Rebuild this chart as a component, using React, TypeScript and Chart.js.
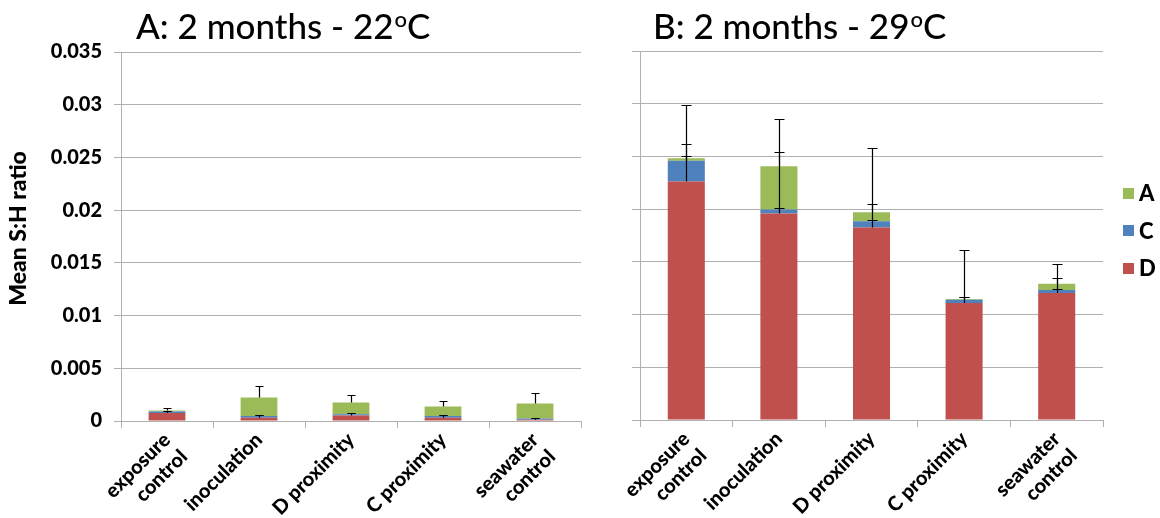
import React, { useEffect, useRef } from 'react';
import { Chart, registerables } from 'chart.js';

Chart.register(...registerables);

// ---------- data ----------
const CATEGORIES: (string | string[])[] = [
  ['exposure', 'control'],
  'inoculation',
  'D proximity',
  'C proximity',
  ['seawater', 'control'],
];
const SERIES_NAMES = ['D', 'C', 'A'];
const SERIES_COLORS = ['#C0504D', '#4F81BD', '#9BBB59'];
const Y_TICKS = [0, 0.005, 0.01, 0.015, 0.02, 0.025, 0.03, 0.035];
const Y_TITLE = 'Mean S:H ratio';

// Panel A: 2 months - 22oC
const A_D = [0.00076, 0.00032, 0.00051, 0.00032, 0.00013];
const A_C = [0.00013, 0.00016, 0.00013, 0.00016, 0.0001];
const A_A = [0.0001, 0.00174, 0.00111, 0.00089, 0.00142];
const A_ERR_D = [0.0002, 0.00022, 0.00022, 0.00022, 0.00012];
const A_ERR_C = [0.00004, 0.00006, 0.00009, 0.00006, 0.00002];
const A_ERR_A = [0.00024, 0.00108, 0.00075, 0.00053, 0.00105];

// Panel B: 2 months - 29oC
const B_D = [0.02262, 0.01959, 0.01826, 0.01109, 0.01204];
const B_C = [0.00196, 0.00038, 0.0006, 0.00032, 0.00028];
const B_A = [0.00025, 0.0041, 0.00085, 0.00006, 0.0006];
const B_ERR_D = [0.0036, 0.00056, 0.00074, 0.00054, 0.00038];
const B_ERR_C = [0.0053, 0.00543, 0.00164, 0.00022, 0.00117];
const B_ERR_A = [0.0002, 0.00446, 0.00609, 0.00463, 0.00183];

const TITLE_A = { main: 'A: 2 months - 22', sup: 'o', tail: 'C' };
const TITLE_B = { main: 'B: 2 months - 29', sup: 'o', tail: 'C' };

// ---------- styling ----------
const FONT = 'Lato';
const GRID = '#b0b0b0';
const H = 518;

function titlePlugin(
  t: { main: string; sup: string; tail: string },
  x: number,
  y: number,
  yTitle: string | null,
) {
  return {
    id: 'panelTitle',
    afterDraw(chart: any) {
      const ctx = chart.ctx;
      ctx.save();
      ctx.fillStyle = '#000';
      ctx.textBaseline = 'alphabetic';
      ctx.textAlign = 'left';
      ctx.font = `500 35px ${FONT}`;
      ctx.fillText(t.main, x, y);
      const w1 = ctx.measureText(t.main).width;
      ctx.font = `500 22px ${FONT}`;
      ctx.fillText(t.sup, x + w1 + 1, y - 12);
      const w2 = ctx.measureText(t.sup).width;
      ctx.font = `500 35px ${FONT}`;
      ctx.fillText(t.tail, x + w1 + w2 + 1, y);
      if (yTitle) {
        const ca = chart.chartArea;
        ctx.translate(19, (ca.top + ca.bottom) / 2 - 8);
        ctx.rotate(-Math.PI / 2);
        ctx.textAlign = 'center';
        ctx.textBaseline = 'middle';
        ctx.font = `900 23px ${FONT}`;
        ctx.fillText(yTitle, 0, 0);
      }
      ctx.restore();
    },
  };
}

function errorBarPlugin(cap: number) {
  return {
    id: 'errorBars',
    afterDatasetsDraw(chart: any) {
      const { ctx } = chart;
      const y = chart.scales.y;
      ctx.save();
      ctx.strokeStyle = '#000';
      ctx.lineWidth = 1.2;
      chart.data.datasets.forEach((ds: any, i: number) => {
        const meta = chart.getDatasetMeta(i);
        meta.data.forEach((el: any, j: number) => {
          let top = 0;
          for (let k = 0; k <= i; k++) top += chart.data.datasets[k].data[j];
          const err = ds.errors[j];
          const yTop = Math.round(y.getPixelForValue(top + err)) + 0.5;
          const x = Math.round(el.x) + 0.5;
          ctx.beginPath();
          ctx.moveTo(x, el.y);
          ctx.lineTo(x, yTop);
          ctx.moveTo(x - cap / 2, yTop);
          ctx.lineTo(x + cap / 2, yTop);
          ctx.stroke();
        });
      });
      ctx.restore();
    },
  };
}

const legendPlugin = {
  id: 'sideLegend',
  afterDraw(chart: any) {
    const { ctx, chartArea } = chart;
    const items = chart.data.datasets.slice().reverse();
    const x0 = chartArea.right + 20;
    const cy = (chartArea.top + chartArea.bottom) / 2 - 5;
    ctx.save();
    ctx.font = `900 22px ${FONT}`;
    ctx.textBaseline = 'middle';
    ctx.textAlign = 'left';
    items.forEach((ds: any, k: number) => {
      const yy = cy + (k - 1) * 37.5;
      ctx.fillStyle = ds.backgroundColor;
      ctx.fillRect(x0, Math.round(yy - 5.5), 11, 11);
      ctx.fillStyle = '#000';
      ctx.fillText(ds.label, x0 + 16, yy + 1);
    });
    ctx.restore();
  },
};

function makeConfig(opts: {
  d: number[]; c: number[]; a: number[];
  errs: number[][];
  showY: boolean;
  yAxisWidth: number;
  padTop: number;
  padRight: number;
  bottom: number;
  cap: number;
  title: { main: string; sup: string; tail: string };
  titleX: number;
  legend: boolean;
}): any {
  const values = [opts.d, opts.c, opts.a];
  const plugins: any[] = [
    errorBarPlugin(opts.cap),
    titlePlugin(opts.title, opts.titleX, 39, opts.showY ? Y_TITLE : null),
  ];
  if (opts.legend) plugins.push(legendPlugin);
  return {
    type: 'bar',
    data: {
      labels: CATEGORIES,
      datasets: SERIES_NAMES.map((name, i) => ({
        label: name,
        data: values[i],
        errors: opts.errs[i],
        backgroundColor: SERIES_COLORS[i],
        borderWidth: 0,
        categoryPercentage: 1,
        barPercentage: 0.4,
      })),
    },
    options: {
      responsive: false,
      animation: false,
      devicePixelRatio: 1,
      layout: { padding: { top: opts.padTop, right: opts.padRight, left: 0, bottom: 0 } },
      plugins: { legend: { display: false }, tooltip: { enabled: false }, title: { display: false } },
      scales: {
        x: {
          stacked: true,
          afterFit: (s: any) => { s.height = H - opts.bottom; },
          border: { display: true, color: GRID, width: 1 },
          grid: { offset: true, drawOnChartArea: false, color: GRID, tickLength: 7 },
          ticks: {
            autoSkip: false,
            maxRotation: 45,
            minRotation: 45,
            padding: 0,
            color: '#000',
            font: { family: FONT, weight: '900', size: 20, lineHeight: 1.2 },
          },
        },
        y: {
          stacked: true,
          min: 0,
          max: 0.035,
          afterBuildTicks: (s: any) => { s.ticks = Y_TICKS.map((v) => ({ value: v })); },
          afterFit: (s: any) => { s.width = opts.yAxisWidth; },
          border: { display: true, color: GRID, width: 1 },
          grid: { color: GRID, tickLength: opts.showY ? 7 : 8, lineWidth: 1 },
          ticks: {
            display: opts.showY,
            padding: 12,
            color: '#000',
            font: { family: FONT, weight: '900', size: 20 },
            callback: (v: number) => String(v),
          },
          title: { display: false },
        },
      },
    },
    plugins,
  };
}

function Panel({ left, width, config }: { left: number; width: number; config: any }) {
  const ref = useRef<HTMLCanvasElement>(null);
  useEffect(() => {
    const chart = new Chart(ref.current as HTMLCanvasElement, config);
    return () => chart.destroy();
  }, []);
  return (
    <div style={{ position: 'absolute', left, top: 0, width, height: H }}>
      <canvas ref={ref} width={width} height={H} style={{ display: 'block' }} />
    </div>
  );
}

export default function App() {
  const leftCfg = makeConfig({
    d: A_D, c: A_C, a: A_A,
    errs: [A_ERR_D, A_ERR_C, A_ERR_A],
    showY: true,
    yAxisWidth: 121,
    padTop: 52,
    padRight: 9,
    bottom: 421,
    cap: 8,
    title: TITLE_A,
    titleX: 136,
    legend: false,
  });
  const rightCfg = makeConfig({
    d: B_D, c: B_C, a: B_A,
    errs: [B_ERR_D, B_ERR_C, B_ERR_A],
    showY: false,
    yAxisWidth: 50,
    padTop: 51,
    padRight: 57,
    bottom: 420,
    cap: 10,
    title: TITLE_B,
    titleX: 63,
    legend: true,
  });
  return (
    <div style={{ position: 'absolute', left: 0, top: 0, width: 1160, height: H, background: '#fff', overflow: 'hidden' }}>
      <Panel left={0} width={590} config={leftCfg} />
      <Panel left={590} width={570} config={rightCfg} />
    </div>
  );
}
